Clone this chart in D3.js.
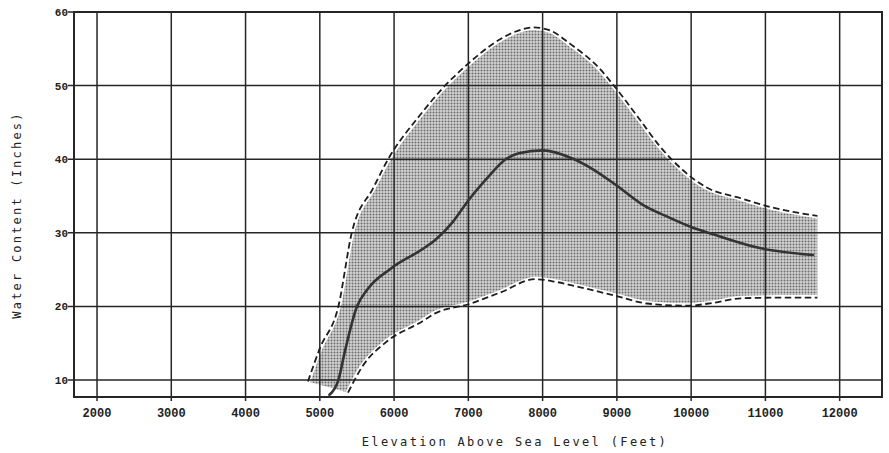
<!DOCTYPE html>
<html>
<head>
<meta charset="utf-8">
<script src="https://cdn.jsdelivr.net/npm/d3@7"></script>
<style>
  html, body { margin: 0; padding: 0; background: #fff; }
  svg { display: block; }
</style>
</head>
<body>
<svg id="chart" width="889" height="453"></svg>
<script>
// values
const xTicks = [2000, 3000, 4000, 5000, 6000, 7000, 8000, 9000, 10000, 11000, 12000]
const yTicks = [10, 20, 30, 40, 50, 60]

// upper envelope (dashed)
const elevUpper = [4840, 5000, 5250, 5430, 5720, 5920, 6350, 6650, 7000, 7350, 7600, 7880, 8100, 8380, 8750, 8960, 9300, 9575, 9890, 10200, 10670, 11070, 11700]
const waterUpper = [9.8, 14.3, 20, 30, 36.1, 40, 46, 49.6, 53, 55.8, 57.2, 57.9, 57.5, 55.6, 52.5, 50, 45.5, 41.8, 38.5, 36.2, 34.7, 33.5, 32.3]

// lower envelope (dashed)
const elevLower = [5380, 5570, 5910, 6350, 6560, 7000, 7430, 7900, 8200, 8510, 9000, 9410, 9950, 10300, 10670, 11200, 11700]
const waterLower = [8.3, 11.8, 15.3, 17.8, 19.1, 20.3, 21.9, 23.7, 23.3, 22.6, 21.4, 20.4, 20.1, 20.5, 21.1, 21.2, 21.2]

// mean (solid)
const elevMean = [5130, 5250, 5340, 5500, 5640, 5950, 6400, 6550, 6800, 7000, 7250, 7490, 7680, 8000, 8400, 8700, 9000, 9350, 9700, 10000, 10300, 10940, 11640]
const waterMean = [8.0, 10.0, 14.0, 20.0, 22.3, 25.1, 27.9, 29.0, 31.6, 34.4, 37.4, 39.9, 40.8, 41.2, 40.1, 38.5, 36.4, 33.8, 32.1, 30.8, 29.8, 27.9, 27.0]

const plotL = 74, plotT = 12, plotR = 882, plotB = 397
const ink = '#262626'

const svg = d3.select('#chart')
const x = d3.scaleLinear().domain([1690, 12570]).range([plotL, plotR])
const y = d3.scaleLinear().domain([7.7, 60]).range([plotB, plotT])

const pts = (xs, ys) => xs.map((d, i) => [d, ys[i]])
const upper = pts(elevUpper, waterUpper)
const lower = pts(elevLower, waterLower)
const mean = pts(elevMean, waterMean)

const line = d3.line()
  .x(d => x(d[0]))
  .y(d => y(d[1]))
  .curve(d3.curveMonotoneX)

// halftone shade
const defs = svg.append('defs')
const pat = defs.append('pattern')
  .attr('id', 'dots')
  .attr('patternUnits', 'userSpaceOnUse')
  .attr('width', 3).attr('height', 3)
pat.append('rect').attr('width', 3).attr('height', 3).attr('fill', '#d2d2d2')
pat.append('circle').attr('cx', 1.5).attr('cy', 1.5).attr('r', 1).attr('fill', '#6e6e6e')

const band = line(upper) + line(lower.slice().reverse()).replace(/^M/, 'L') + 'Z'
svg.append('path')
  .attr('d', band)
  .attr('fill', 'url(#dots)')

// white gap along the envelopes
svg.append('g').selectAll('path.gap')
  .data([upper, lower])
  .join('path')
  .attr('class', 'gap')
  .attr('d', line)
  .attr('fill', 'none')
  .attr('stroke', '#fff')
  .attr('stroke-width', 5)

// grid
const grid = svg.append('g')
grid.selectAll('line.v')
  .data(xTicks)
  .join('line')
  .attr('class', 'v')
  .attr('x1', d => x(d)).attr('x2', d => x(d))
  .attr('y1', plotT).attr('y2', plotB + 4)
  .attr('stroke', ink).attr('stroke-width', 1.5)
grid.selectAll('line.h')
  .data(yTicks)
  .join('line')
  .attr('class', 'h')
  .attr('x1', plotL - 6).attr('x2', plotR)
  .attr('y1', d => y(d)).attr('y2', d => y(d))
  .attr('stroke', ink).attr('stroke-width', 1.5)

// frame
svg.append('rect')
  .attr('x', plotL).attr('y', plotT)
  .attr('width', plotR - plotL).attr('height', plotB - plotT)
  .attr('fill', 'none')
  .attr('stroke', ink).attr('stroke-width', 2)

// envelopes
svg.append('g').selectAll('path.env')
  .data([upper, lower])
  .join('path')
  .attr('class', 'env')
  .attr('d', line)
  .attr('fill', 'none')
  .attr('stroke', '#1e1e1e')
  .attr('stroke-width', 1.8)
  .attr('stroke-dasharray', '6.5,3.5')

// mean
svg.append('path')
  .attr('d', line(mean))
  .attr('fill', 'none')
  .attr('stroke', '#333')
  .attr('stroke-width', 2.6)
  .attr('stroke-linecap', 'round')

// tick labels
svg.append('g').selectAll('text')
  .data(xTicks)
  .join('text')
  .attr('x', d => x(d))
  .attr('y', 417)
  .attr('text-anchor', 'middle')
  .attr('font-family', 'Liberation Mono, monospace')
  .attr('font-weight', 'bold')
  .attr('font-size', 12)
  .attr('fill', '#222')
  .text(d => d)

svg.append('g').selectAll('text')
  .data(yTicks)
  .join('text')
  .attr('x', plotL - 6)
  .attr('y', d => y(d) + 4)
  .attr('text-anchor', 'end')
  .attr('font-family', 'Liberation Mono, monospace')
  .attr('font-weight', 'bold')
  .attr('font-size', 11)
  .attr('fill', '#222')
  .text(d => d)

// axis titles
svg.append('text')
  .attr('x', 515)
  .attr('y', 446)
  .attr('text-anchor', 'middle')
  .attr('font-family', 'DejaVu Sans Mono, monospace')
  .attr('font-size', 12)
  .attr('letter-spacing', 2.35)
  .attr('fill', '#222')
  .text('Elevation Above Sea Level (Feet)')

svg.append('text')
  .attr('transform', 'translate(21,215) rotate(-90)')
  .attr('text-anchor', 'middle')
  .attr('font-family', 'DejaVu Sans Mono, monospace')
  .attr('font-size', 12)
  .attr('letter-spacing', 2.2)
  .attr('fill', '#222')
  .text('Water Content (Inches)')
</script>
</body>
</html>
